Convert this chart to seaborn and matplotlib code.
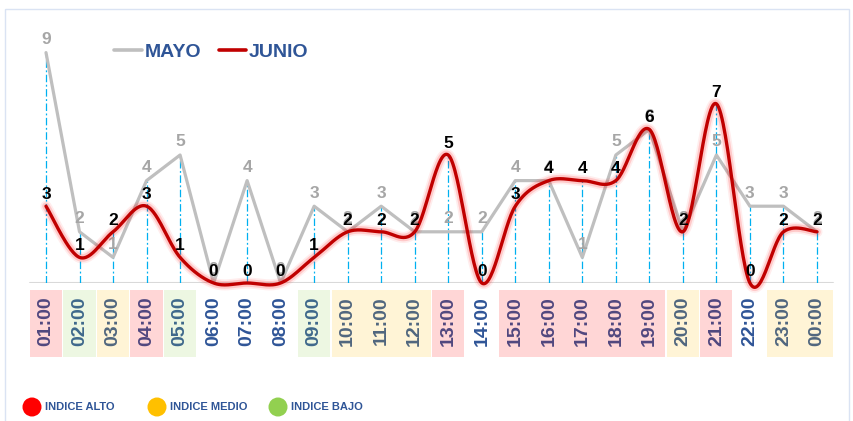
import numpy as np
import pandas as pd
import matplotlib
matplotlib.use("Agg")
import matplotlib.pyplot as plt
import seaborn as sns
from matplotlib.patches import Rectangle, Circle
from matplotlib import transforms
from matplotlib import patheffects as pe
from matplotlib.lines import Line2D

# ---------------- data ----------------
horas = ["01:00", "02:00", "03:00", "04:00", "05:00", "06:00", "07:00", "08:00",
         "09:00", "10:00", "11:00", "12:00", "13:00", "14:00", "15:00", "16:00",
         "17:00", "18:00", "19:00", "20:00", "21:00", "22:00", "23:00", "00:00"]
mayo = [9, 2, 1, 4, 5, 0, 4, 0, 3, 2, 3, 2, 2, 2, 4, 4, 1, 5, 6, 2, 5, 3, 3, 2]
junio = [3, 1, 2, 3, 1, 0, 0, 0, 1, 2, 2, 2, 5, 0, 3, 4, 4, 4, 6, 2, 7, 0, 2, 2]
indice = ["ALTO", "BAJO", "MEDIO", "ALTO", "BAJO", None, None, None,
          "BAJO", "MEDIO", "MEDIO", "MEDIO", "ALTO", None, "ALTO", "ALTO",
          "ALTO", "ALTO", "ALTO", "MEDIO", "ALTO", None, "MEDIO", "MEDIO"]
legend_indice = ["INDICE ALTO", "INDICE MEDIO", "INDICE BAJO"]

# ---------------- style ----------------
sns.set_style("white")
plt.rcParams["font.family"] = ["Liberation Sans", "DejaVu Sans"]

BLUE = "#2F5597"
GRAY = "#BFBFBF"
RED = "#C00000"
IDX_COL = {"ALTO": "#FF0000", "MEDIO": "#FFC000", "BAJO": "#92D050"}

W, H = 854, 421
fig = plt.figure(figsize=(W / 100, H / 100), dpi=100)

# overlay in pixel coordinates for border and bottom legend (background)
ov = fig.add_axes([0, 0, 1, 1], zorder=-1)
ov.set_xlim(0, W)
ov.set_ylim(H, 0)
ov.axis("off")
ov.add_patch(Rectangle((5, 9), 844, 420, fill=False, edgecolor="#DAE3F3", lw=1))
for cx, lab in zip([32, 157, 278], legend_indice):
    col = IDX_COL[lab.split()[-1]]
    ov.add_patch(Circle((cx, 407), 9.5, color=col, lw=0))
    ov.text(cx + 13, 407.5, lab, ha="left", va="center", fontsize=8,
            fontweight="bold", color=BLUE)

# main axes: baseline at y=283 px, unit 25.6 px, category step 33.52 px starting at x=46
y0px, unit = 283, 25.6
x0px, step = 46, 33.52
ax = fig.add_axes([0, (H - y0px) / H, 1, y0px / H])
ax.patch.set_visible(False)
ax.set_xlim(-x0px / step, (W - x0px) / step)
ax.set_ylim(0, y0px / unit)
for s in ax.spines.values():
    s.set_visible(False)
ax.set_yticks([])

x = np.arange(len(horas))
df = pd.DataFrame({"hora": horas, "x": x, "MAYO": mayo, "JUNIO": junio})

# baseline
ax.axhline(0, xmin=30 / W, xmax=833 / W, color="#D9D9D9", lw=1.5, zorder=1)

# vertical drop lines
tops = np.maximum(df["MAYO"].values, df["JUNIO"].values)
mask = tops > 0
ax.vlines(df["x"].values[mask], 0, tops[mask], color="#00B0F0", lw=0.9,
          linestyles=(0, (6, 2, 1.5, 2)), zorder=2)

# MAYO straight line
sns.lineplot(data=df, x="x", y="MAYO", ax=ax, color=GRAY, lw=2.3, zorder=3,
             legend=False)


# JUNIO smoothed line (Catmull-Rom through the data points)
def smooth(xs, ys, n=30):
    xs = np.asarray(xs, float)
    ys = np.asarray(ys, float)
    px = np.concatenate([[xs[0]], xs, [xs[-1]]])
    py = np.concatenate([[ys[0]], ys, [ys[-1]]])
    out_x, out_y = [], []
    t = np.linspace(0, 1, n, endpoint=False)
    for i in range(1, len(px) - 2):
        p0 = np.array([px[i], py[i]])
        p3 = np.array([px[i + 1], py[i + 1]])
        c1 = p0 + (np.array([px[i + 1], py[i + 1]]) - np.array([px[i - 1], py[i - 1]])) / 6
        c2 = p3 - (np.array([px[i + 2], py[i + 2]]) - np.array([px[i], py[i]])) / 6
        b = ((1 - t) ** 3)[:, None] * p0 + (3 * (1 - t) ** 2 * t)[:, None] * c1 \
            + (3 * (1 - t) * t ** 2)[:, None] * c2 + (t ** 3)[:, None] * p3
        out_x.extend(b[:, 0])
        out_y.extend(b[:, 1])
    out_x.append(xs[-1])
    out_y.append(ys[-1])
    return np.array(out_x), np.array(out_y)


sx, sy = smooth(df["x"], df["JUNIO"])
sm = pd.DataFrame({"x": sx, "y": sy})
sns.lineplot(data=sm, x="x", y="y", ax=ax, color=RED, lw=2.4, sort=False,
             estimator=None, zorder=4, legend=False)
ax.lines[-1].set_clip_on(False)
ax.lines[-1].set_path_effects([
    pe.Stroke(linewidth=8, foreground=(1, 0, 0, 0.07)),
    pe.Stroke(linewidth=5.5, foreground=(1, 0, 0, 0.15)),
    pe.Normal()])

# data labels
for xi, v in zip(df["x"], df["MAYO"]):
    ax.annotate(str(v), (xi, v), xytext=(0, 4), textcoords="offset points",
                ha="center", va="bottom", fontsize=12.5, fontweight="bold",
                color="#A6A6A6", zorder=3.5, annotation_clip=False)
for xi, v in zip(df["x"], df["JUNIO"]):
    ax.annotate(str(v), (xi, v), xytext=(0, 3), textcoords="offset points",
                ha="center", va="bottom", fontsize=12.5, fontweight="bold",
                color="black", zorder=5, annotation_clip=False)

# x tick labels
ax.set_xticks(x)
ax.set_xticklabels(horas, rotation=90, fontsize=14, fontweight="bold", color=BLUE)
ax.tick_params(axis="x", length=0, pad=9.5)
ax.set_xlabel("")
ax.set_ylabel("")

# coloured index boxes (semi-transparent, on top of the labels)
trans = transforms.blended_transform_factory(ax.transData, fig.transFigure)
yb, yt = (H - 357) / H, (H - 290) / H
i = 0
while i < len(indice):
    j = i
    while j + 1 < len(indice) and indice[j + 1] == indice[i]:
        j += 1
    if indice[i] is not None:
        r = Rectangle((i - 0.48, yb), (j - i) + 0.96, yt - yb, transform=trans,
                      facecolor=IDX_COL[indice[i]], alpha=0.16, lw=0, zorder=10)
        fig.add_artist(r)
    i = j + 1

# top legend
handles = [Line2D([], [], color=GRAY, lw=2.6), Line2D([], [], color=RED, lw=2.6)]
leg = fig.legend(handles, ["MAYO", "JUNIO"], loc="center left",
                 bbox_to_anchor=(97 / W, 1 - 52 / H), ncol=2, frameon=False,
                 handlelength=1.4, handletextpad=0.15, columnspacing=0.9,
                 prop={"size": 14, "weight": "bold"})
for t in leg.get_texts():
    t.set_color(BLUE)

fig.savefig("out.png", dpi=100)
